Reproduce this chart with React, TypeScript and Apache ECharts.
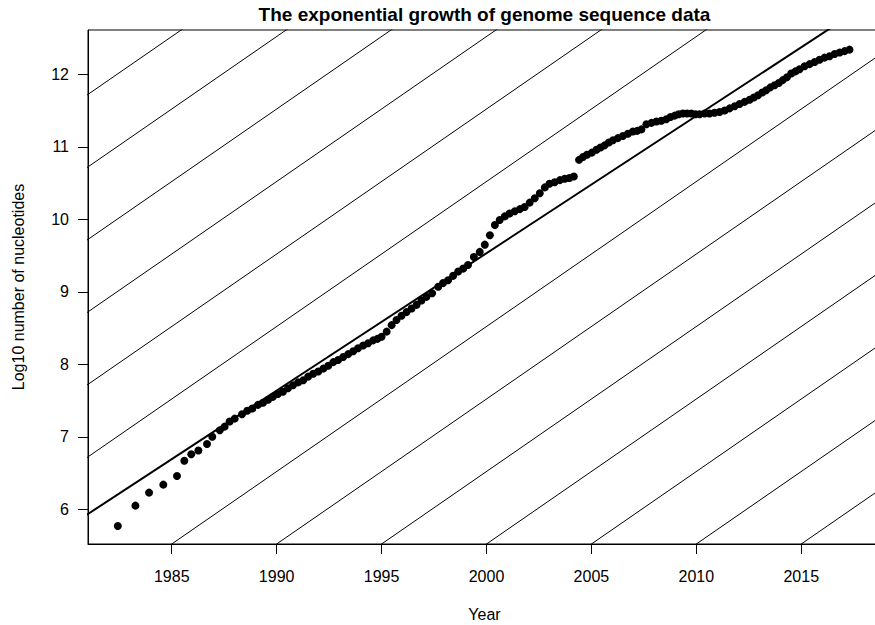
import React, { useEffect, useRef } from "react";
import * as echarts from "echarts";

const years = [
  1982.43, 1983.27, 1983.92, 1984.6, 1985.25, 1985.6, 1985.93, 1986.27, 1986.68, 1986.93,
  1987.29, 1987.52, 1987.76, 1988.0, 1988.35, 1988.6, 1988.84, 1989.11, 1989.35, 1989.59,
  1989.82, 1990.06, 1990.3, 1990.54, 1990.78, 1991.02, 1991.27, 1991.5, 1991.74, 1991.98,
  1992.22, 1992.46, 1992.7, 1992.93, 1993.17, 1993.41, 1993.65, 1993.88, 1994.12, 1994.36,
  1994.6, 1994.8, 1995.0, 1995.24, 1995.48, 1995.71, 1995.95, 1996.19, 1996.43, 1996.67,
  1996.9, 1997.14, 1997.41, 1997.7, 1997.93, 1998.17, 1998.41, 1998.65, 1998.89, 1999.12,
  1999.4, 1999.68, 1999.92, 2000.16, 2000.4, 2000.63, 2000.87, 2001.1, 2001.35, 2001.59,
  2001.82, 2002.06, 2002.3, 2002.54, 2002.78, 2003.0, 2003.25, 2003.5, 2003.73, 2003.95,
  2004.16, 2004.41, 2004.6, 2004.79, 2005.02, 2005.24, 2005.43, 2005.63, 2005.83, 2006.03,
  2006.26, 2006.5, 2006.74, 2006.98, 2007.18, 2007.38, 2007.62, 2007.86, 2008.1, 2008.33,
  2008.57, 2008.77, 2008.97, 2009.16, 2009.36, 2009.56, 2009.76, 2009.96, 2010.16, 2010.4,
  2010.63, 2010.87, 2011.11, 2011.35, 2011.59, 2011.83, 2012.06, 2012.3, 2012.54, 2012.74,
  2012.94, 2013.14, 2013.33, 2013.53, 2013.73, 2013.93, 2014.12, 2014.32, 2014.52, 2014.72,
  2014.92, 2015.16, 2015.4, 2015.64, 2015.87, 2016.11, 2016.35, 2016.59, 2016.83, 2017.07,
  2017.3,
];
const log10Nucleotides = [
  5.77, 6.05, 6.23, 6.34, 6.46, 6.67, 6.76, 6.81, 6.9, 7.0,
  7.09, 7.14, 7.21, 7.25, 7.31, 7.36, 7.39, 7.44, 7.47, 7.51,
  7.55, 7.59, 7.62, 7.67, 7.71, 7.75, 7.78, 7.83, 7.87, 7.9,
  7.94, 7.98, 8.03, 8.06, 8.1, 8.14, 8.18, 8.22, 8.26, 8.29,
  8.33, 8.35, 8.38, 8.45, 8.54, 8.61, 8.67, 8.72, 8.77, 8.82,
  8.88, 8.93, 8.98, 9.07, 9.12, 9.16, 9.22, 9.28, 9.32, 9.37,
  9.48, 9.55, 9.65, 9.78, 9.92, 9.99, 10.04, 10.08, 10.11, 10.14,
  10.17, 10.23, 10.29, 10.36, 10.44, 10.49, 10.51, 10.54, 10.56, 10.57,
  10.59, 10.82, 10.86, 10.89, 10.92, 10.96, 10.99, 11.02, 11.06, 11.09,
  11.12, 11.15, 11.18, 11.21, 11.22, 11.24, 11.31, 11.33, 11.35, 11.36,
  11.38, 11.41, 11.43, 11.45, 11.46, 11.46, 11.46, 11.45, 11.45, 11.46,
  11.46, 11.47, 11.48, 11.5, 11.53, 11.56, 11.59, 11.62, 11.65, 11.68,
  11.71, 11.75, 11.78, 11.82, 11.85, 11.88, 11.92, 11.96, 12.01, 12.04,
  12.07, 12.11, 12.14, 12.17, 12.2, 12.23, 12.25, 12.28, 12.3, 12.32,
  12.34,
];

const xTicks = [1985, 1990, 1995, 2000, 2005, 2010, 2015];
const yTicks = [6, 7, 8, 9, 10, 11, 12];
const xRange = [1981.01, 2018.8];
const yRange = [5.521, 12.611];

// Background guide lines: slope 0.2 per year, one unit apart
const guideSlope = 0.2;
const guideAnchorYear = 1985;
const guideAnchorValue = 5.521;
const guideOffsets = [-6, -5, -4, -3, -2, -1, 0, 2, 3, 4, 5, 6, 7];

// Fitted trend line
const fitSlope = 0.1894;
const fitAt2000 = 9.532;

const lineSpan = [1970, 2030];
const FONT = "'Liberation Sans', Arial, Helvetica, sans-serif";

export default function App() {
  const ref = useRef<HTMLDivElement>(null);

  useEffect(() => {
    if (!ref.current) return;
    const chart = echarts.init(ref.current, undefined, { renderer: "svg" });

    const guideSeries = guideOffsets.map((k) => ({
      type: "line",
      silent: true,
      symbol: "none",
      clip: true,
      lineStyle: { color: "#000", width: 1 },
      data: lineSpan.map((x) => [x, guideAnchorValue + k + guideSlope * (x - guideAnchorYear)]),
      z: 1,
    }));

    const fitSeries = {
      type: "line",
      silent: true,
      symbol: "none",
      clip: true,
      lineStyle: { color: "#000", width: 2 },
      data: lineSpan.map((x) => [x, fitAt2000 + fitSlope * (x - 2000)]),
      z: 2,
    };

    const pointSeries = {
      type: "scatter",
      symbol: "circle",
      symbolSize: 8,
      itemStyle: { color: "#000", opacity: 1 },
      data: years.map((y, i) => [y, log10Nucleotides[i]]),
      z: 3,
    };

    chart.setOption({
      animation: false,
      backgroundColor: "#fff",
      grid: {
        left: 88,
        top: 30,
        width: 793,
        height: 514,
        show: true,
        borderColor: "#000",
        borderWidth: 1,
        backgroundColor: "transparent",
        containLabel: false,
        outerBoundsMode: "none",
      },
      xAxis: {
        type: "value",
        min: xRange[0],
        max: xRange[1],
        splitLine: { show: false },
        axisLine: { show: true, lineStyle: { color: "#000", width: 1 } },
        axisTick: { show: true, length: 10, customValues: xTicks, lineStyle: { color: "#000" } },
        axisLabel: {
          customValues: xTicks,
          margin: 32,
          verticalAlign: "middle",
          color: "#000",
          fontSize: 16,
          fontFamily: FONT,
          formatter: (v: number) => String(v),
        },
      },
      yAxis: {
        type: "value",
        min: yRange[0],
        max: yRange[1],
        splitLine: { show: false },
        axisLine: { show: true, lineStyle: { color: "#000", width: 1 } },
        axisTick: { show: true, length: 10, customValues: yTicks, lineStyle: { color: "#000" } },
        axisLabel: {
          customValues: yTicks,
          margin: 19,
          color: "#000",
          fontSize: 16,
          fontFamily: FONT,
          formatter: (v: number) => String(v),
        },
      },
      graphic: [
        {
          type: "text",
          x: 484.5,
          y: 14,
          style: {
            text: "The exponential growth of genome sequence data",
            fill: "#000",
            fontSize: 19,
            fontWeight: "bold",
            fontFamily: FONT,
            align: "center",
            verticalAlign: "middle",
            textAlign: "center",
            textVerticalAlign: "middle",
          },
        },
        {
          type: "text",
          x: 484.5,
          y: 614,
          style: {
            text: "Year",
            fill: "#000",
            fontSize: 16,
            fontFamily: FONT,
            align: "center",
            verticalAlign: "middle",
            textAlign: "center",
            textVerticalAlign: "middle",
          },
        },
        {
          type: "text",
          x: 18.7,
          y: 287,
          rotation: Math.PI / 2,
          style: {
            text: "Log10 number of nucleotides",
            fill: "#000",
            fontSize: 16,
            fontFamily: FONT,
            align: "center",
            verticalAlign: "middle",
            textAlign: "center",
            textVerticalAlign: "middle",
          },
        },
      ],
      series: [...guideSeries, fitSeries, pointSeries],
    });

    return () => chart.dispose();
  }, []);

  return (
    <div
      ref={ref}
      style={{ position: "fixed", left: 0, top: 0, width: 875, height: 625, background: "#fff" }}
    />
  );
}
